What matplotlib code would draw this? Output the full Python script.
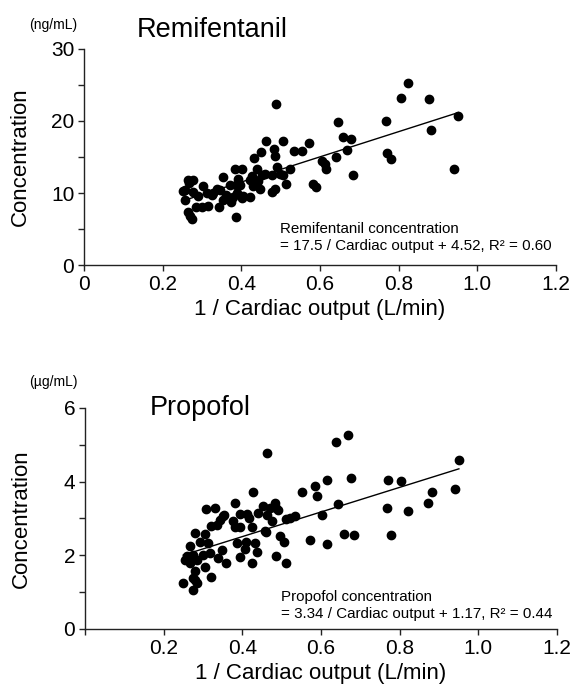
import matplotlib
matplotlib.use('Agg')
import matplotlib.pyplot as plt
import numpy as np

plt.rcParams['font.family'] = ['Liberation Sans', 'DejaVu Sans']

# Remifentanil: 1/CO (x) vs concentration (ng/mL)
remi_x = [0.824, 0.805, 0.876, 0.487, 0.952, 0.768, 0.645, 0.883, 0.659, 0.678,
          0.464, 0.505, 0.573, 0.482, 0.450, 0.535, 0.555, 0.669, 0.485, 0.433,
          0.771, 0.780, 0.640, 0.605, 0.613, 0.615, 0.941, 0.683, 0.384, 0.401,
          0.439, 0.492, 0.524, 0.461, 0.477, 0.507, 0.354, 0.392, 0.422, 0.443,
          0.513, 0.583, 0.589, 0.386, 0.430, 0.278, 0.268, 0.302, 0.252, 0.278,
          0.312, 0.346, 0.486, 0.479, 0.257, 0.291, 0.325, 0.361, 0.380, 0.405,
          0.422, 0.354, 0.373, 0.299, 0.316, 0.286, 0.343, 0.264, 0.269, 0.275,
          0.386, 0.265, 0.337, 0.371, 0.397, 0.257, 0.329, 0.388, 0.447, 0.375,
          0.401, 0.426, 0.452, 0.498]
remi_y = [25.3, 23.2, 23.1, 22.4, 20.7, 20.0, 19.8, 18.7, 17.8, 17.5,
          17.2, 17.2, 16.9, 16.1, 15.7, 15.9, 15.9, 16.0, 15.2, 14.8,
          15.6, 14.7, 15.0, 14.4, 14.0, 13.4, 13.3, 12.5, 13.4, 13.4,
          13.3, 13.6, 13.3, 12.7, 12.5, 12.5, 12.2, 12.0, 11.8, 11.7,
          11.2, 11.3, 10.8, 11.1, 11.0, 11.8, 11.4, 11.0, 10.3, 10.2,
          10.0, 10.4, 10.5, 10.2, 9.0, 9.6, 9.7, 9.7, 9.5, 9.6,
          9.5, 9.0, 8.8, 8.1, 8.2, 8.0, 8.0, 7.4, 6.8, 6.4,
          6.6, 11.8, 10.6, 11.1, 11.1, 10.4, 10.0, 10.0, 10.6, 9.0,
          9.3, 12.3, 12.5, 12.6]

# Propofol: 1/CO (x) vs concentration (ug/mL)
prop_x = [0.668, 0.639, 0.462, 0.951, 0.615, 0.676, 0.772, 0.804, 0.585, 0.589,
          0.553, 0.882, 0.940, 0.428, 0.643, 0.873, 0.767, 0.822, 0.602, 0.534,
          0.511, 0.483, 0.486, 0.471, 0.454, 0.441, 0.462, 0.475, 0.496, 0.506,
          0.572, 0.615, 0.660, 0.683, 0.778, 0.460, 0.424, 0.394, 0.411, 0.394,
          0.377, 0.352, 0.343, 0.320, 0.308, 0.386, 0.410, 0.432, 0.437, 0.407,
          0.394, 0.424, 0.486, 0.511, 0.359, 0.339, 0.348, 0.318, 0.293, 0.305,
          0.280, 0.267, 0.305, 0.280, 0.321, 0.250, 0.276, 0.284, 0.276, 0.254,
          0.267, 0.259, 0.276, 0.284, 0.331, 0.382, 0.354, 0.416, 0.492, 0.522,
          0.335, 0.382, 0.458, 0.314, 0.301, 0.280]
prop_y = [5.27, 5.07, 4.78, 4.58, 4.05, 4.11, 4.05, 4.02, 3.87, 3.60,
          3.73, 3.73, 3.80, 3.73, 3.38, 3.43, 3.28, 3.19, 3.10, 3.07,
          2.98, 3.42, 3.28, 3.28, 3.33, 3.15, 3.10, 2.92, 2.51, 2.37,
          2.42, 2.31, 2.58, 2.56, 2.56, 2.62, 2.77, 3.13, 3.13, 2.78,
          2.92, 3.07, 2.96, 2.80, 3.26, 2.33, 2.37, 2.33, 2.10, 2.17,
          1.95, 1.79, 1.98, 1.79, 1.80, 1.92, 2.15, 2.07, 2.37, 2.58,
          2.60, 2.26, 1.69, 1.56, 1.41, 1.26, 1.38, 1.24, 1.06, 1.88,
          1.79, 1.97, 2.01, 1.88, 3.28, 3.42, 3.10, 3.01, 3.24, 3.01,
          2.83, 2.78, 2.65, 2.33, 2.01, 1.33]

# regression results
remi_fit = (17.5, 4.52)
prop_fit = (3.34, 1.17)

fig = plt.figure(figsize=(5.74, 6.93), dpi=100)
ax1 = fig.add_axes([0.1463, 0.6176, 0.8223, 0.3117])
ax2 = fig.add_axes([0.148, 0.0924, 0.822, 0.319])


def style(ax):
    for s in ['top', 'right']:
        ax.spines[s].set_visible(False)
    for s in ['left', 'bottom']:
        ax.spines[s].set_linewidth(1.0)
        ax.spines[s].set_color('#222222')
    ax.tick_params(direction='out', length=4, width=1.0, color='#222222',
                   labelsize=15, pad=3)
    ax.set_xlim(0, 1.2)
    ax.set_xticks([0, 0.2, 0.4, 0.6, 0.8, 1.0, 1.2])
    ax.set_xlabel('1 / Cardiac output (L/min)', fontsize=16, labelpad=4)
    ax.set_ylabel('Concentration', fontsize=16)
    ax.yaxis.set_label_coords(-0.112, 0.5)


# top panel
ax1.scatter(remi_x, remi_y, s=36, color='black', zorder=3)
xx = np.array([min(remi_x), max(remi_x)])
ax1.plot(xx, remi_fit[0] * xx + remi_fit[1], color='black', lw=1.0, zorder=2)
style(ax1)
ax1.set_ylim(0, 30)
ax1.set_yticks([0, 5, 10, 15, 20, 25, 30])
ax1.set_yticklabels(['0', '', '10', '', '20', '', '30'])
ax1.set_xticklabels(['0', '0.2', '0.4', '0.6', '0.8', '1.0', '1.2'])
ax1.text(0.415, 0.128, 'Remifentanil concentration\n= 17.5 / Cardiac output + 4.52, R² = 0.60',
         transform=ax1.transAxes, fontsize=10.9, ha='left', va='center',
         linespacing=1.25)

# bottom panel
ax2.scatter(prop_x, prop_y, s=36, color='black', zorder=3)
xx = np.array([min(prop_x), max(prop_x)])
ax2.plot(xx, prop_fit[0] * xx + prop_fit[1], color='black', lw=1.0, zorder=2)
style(ax2)
ax2.set_ylim(0, 6)
ax2.set_yticks([0, 1, 2, 3, 4, 5, 6])
ax2.set_yticklabels(['0', '', '2', '', '4', '', '6'])
ax2.set_xticklabels(['', '0.2', '0.4', '0.6', '0.8', '1.0', '1.2'])
ax2.text(0.415, 0.105, 'Propofol concentration\n= 3.34 / Cardiac output + 1.17, R² = 0.44',
         transform=ax2.transAxes, fontsize=10.9, ha='left', va='center',
         linespacing=1.25)

# titles and units
fig.text(137 / 574, 1 - 30 / 693, 'Remifentanil', fontsize=19.5, ha='left', va='center')
fig.text(150 / 574, 1 - 408 / 693, 'Propofol', fontsize=19.5, ha='left', va='center')
fig.text(53 / 574, 1 - 25 / 693, '(ng/mL)', fontsize=10, ha='center', va='center')
fig.text(53 / 574, 1 - 382 / 693, '(µg/mL)', fontsize=10, ha='center', va='center')

fig.savefig('out.png', dpi=100)
